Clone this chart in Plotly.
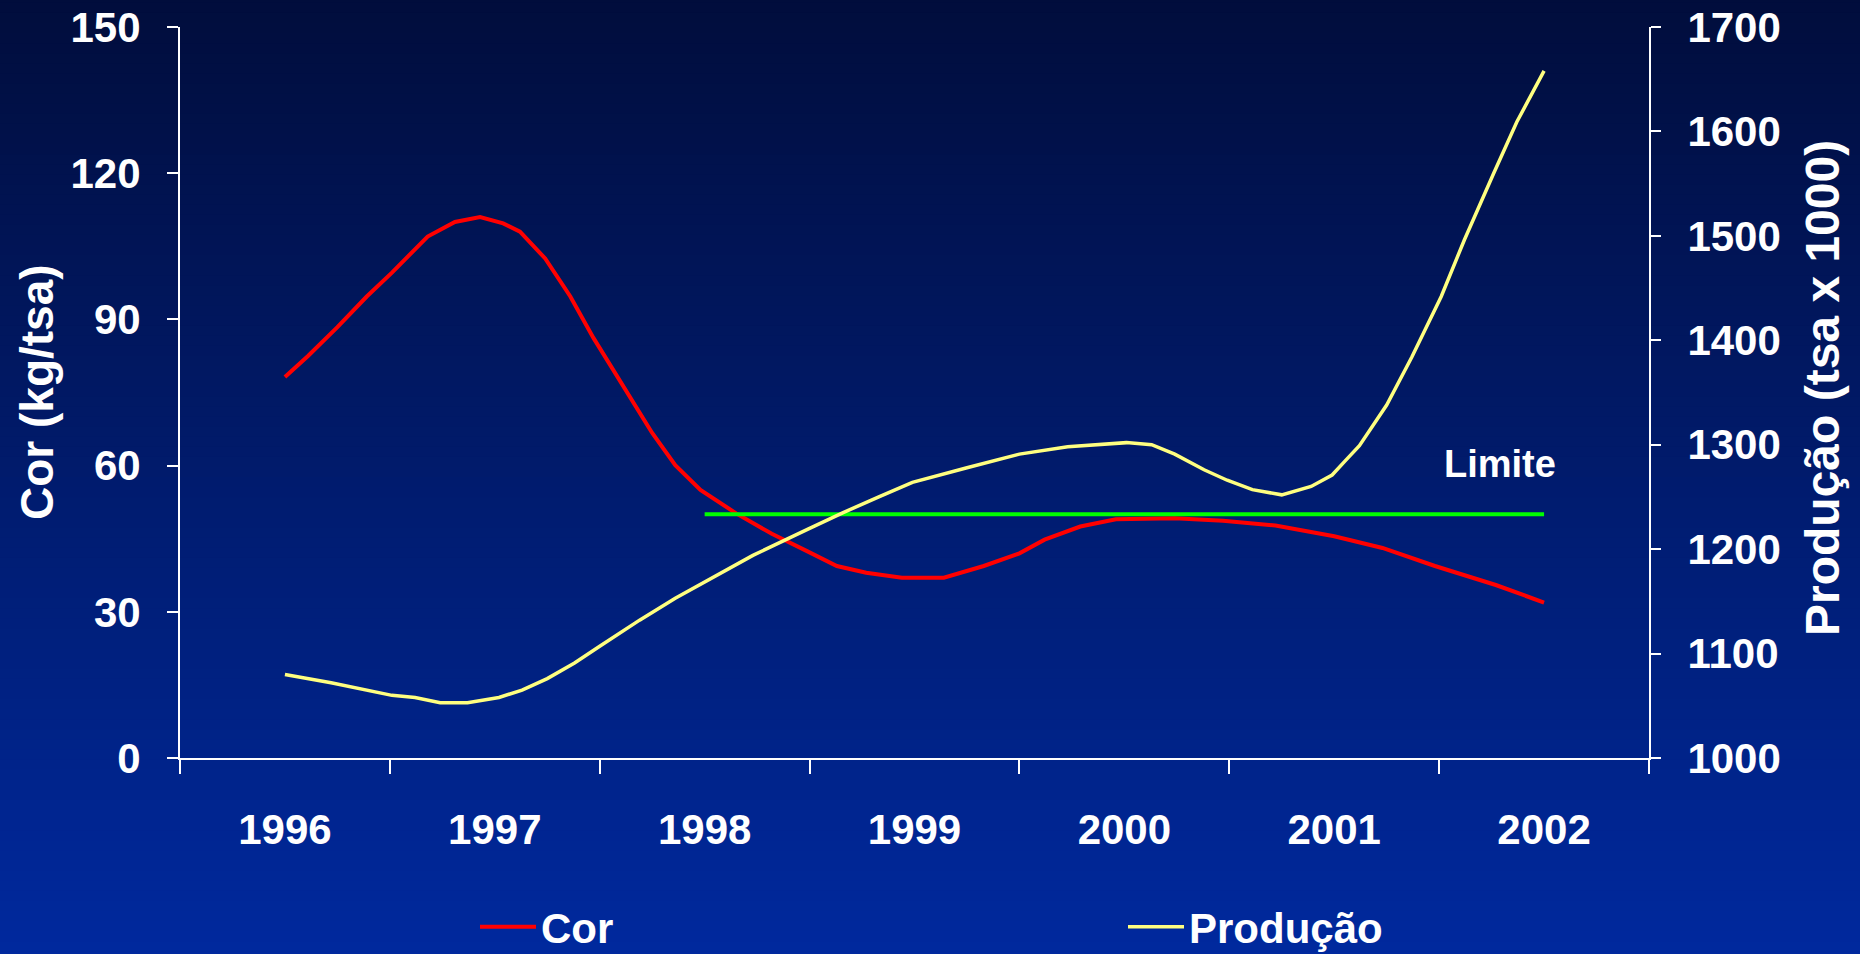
import plotly.graph_objects as go

# ---------------- data ----------------
years = [1996, 1997, 1998, 1999, 2000, 2001, 2002]
year_labels = ["1996", "1997", "1998", "1999", "2000", "2001", "2002"]

cor_x = [1996.00, 1996.11, 1996.25, 1996.39, 1996.51, 1996.68, 1996.81, 1996.93,
         1997.04, 1997.12, 1997.24, 1997.36, 1997.47, 1997.61, 1997.75, 1997.86,
         1997.98, 1998.15, 1998.32, 1998.49, 1998.63, 1998.77, 1998.94, 1999.14,
         1999.33, 1999.50, 1999.62, 1999.79, 1999.96, 2000.24, 2000.47, 2000.72,
         2001.00, 2001.23, 2001.48, 2001.77, 2002.00]
cor_y = [78.2, 82.5, 88.4, 94.7, 99.6, 107.0, 110.0, 111.0,
         109.7, 108.0, 102.5, 94.7, 86.2, 76.5, 66.7, 60.1,
         55.0, 50.2, 46.0, 42.4, 39.4, 38.0, 37.0, 37.0,
         39.4, 42.0, 44.8, 47.5, 49.0, 49.2, 48.7, 47.7,
         45.5, 43.1, 39.4, 35.5, 31.9]

prod_x = [1996.00, 1996.22, 1996.51, 1996.62, 1996.74, 1996.87, 1997.02, 1997.13,
          1997.25, 1997.38, 1997.50, 1997.69, 1997.86, 1998.03, 1998.23, 1998.49,
          1998.66, 1998.83, 1998.99, 1999.25, 1999.50, 1999.73, 2000.01, 2000.13,
          2000.24, 2000.38, 2000.49, 2000.61, 2000.75, 2000.89, 2000.99, 2001.05,
          2001.12, 2001.25, 2001.37, 2001.51, 2001.62, 2001.76, 2001.87, 2002.00]
prod_y = [1080, 1072, 1060, 1058, 1053, 1053, 1058, 1065,
          1076, 1091, 1107, 1132, 1153, 1172, 1194, 1219,
          1235, 1250, 1264, 1278, 1291, 1298, 1302, 1300,
          1291, 1276, 1266, 1257, 1252, 1260, 1271, 1284,
          1299, 1338, 1384, 1442, 1496, 1560, 1609, 1658]

limite_x = [1998.0, 2002.0]
limite_y = [50, 50]
limite_label = "Limite"

cor_ticks = [0, 30, 60, 90, 120, 150]
prod_ticks = [1000, 1100, 1200, 1300, 1400, 1500, 1600, 1700]

# ---------------- styling ----------------
FONT = "Liberation Sans, Arial, sans-serif"
WHITE = "#ffffff"
W, H = 1860, 954
ML, MR, MT, MB = 180, 211, 27, 196
PW, PH = W - ML - MR, H - MT - MB

fig = go.Figure()

fig.add_trace(go.Scatter(x=cor_x, y=cor_y, mode="lines", name="Cor",
                         line=dict(color="#ff0000", width=4)))
fig.add_trace(go.Scatter(x=prod_x, y=prod_y, mode="lines", name="Produção",
                         line=dict(color="#ffff80", width=3.5), yaxis="y2"))
fig.add_trace(go.Scatter(x=limite_x, y=limite_y, mode="lines", showlegend=False,
                         line=dict(color="#00ff00", width=4)))

# gradient background built from thin bands
shapes = []
n = 96
top = (1, 13, 60)
bot = (0, 41, 158)
y_top = MT / PH + 1.0 + 0.01
y_bot = -MB / PH - 0.01
for i in range(n):
    t = i / (n - 1)
    c = tuple(round(top[k] + (bot[k] - top[k]) * t) for k in range(3))
    y1 = y_top - (y_top - y_bot) * i / n
    y0 = y_top - (y_top - y_bot) * (i + 1) / n - 0.002
    shapes.append(dict(type="rect", xref="paper", yref="paper",
                       x0=-ML / PW - 0.01, x1=1 + MR / PW + 0.01, y0=y0, y1=y1,
                       fillcolor="rgb(%d,%d,%d)" % c, line=dict(width=0),
                       layer="below"))

tickfont = dict(family=FONT, size=42, color=WHITE, weight="bold")

fig.update_layout(
    width=W, height=H,
    margin=dict(l=ML, r=MR, t=MT, b=MB, autoexpand=False),
    paper_bgcolor="rgb(0,30,110)",
    plot_bgcolor="rgba(0,0,0,0)",
    shapes=shapes,
    showlegend=True,
    legend=dict(orientation="h", xref="container", x=475 / W, xanchor="left",
                yref="container", y=1 - 927 / H, yanchor="middle",
                font=dict(family=FONT, size=42, color=WHITE, weight="bold"),
                bgcolor="rgba(0,0,0,0)", entrywidth=577, entrywidthmode="pixels",
                itemwidth=56),
    xaxis=dict(range=[1995.5, 2002.5], tickmode="array", tickvals=years,
               ticktext=year_labels, ticks="", showgrid=False, zeroline=False,
               showline=True, linecolor=WHITE, linewidth=2, automargin=False,
               tickfont=tickfont, ticklabelstandoff=34,
               minor=dict(tickmode="array",
                          tickvals=[1995.5, 1996.5, 1997.5, 1998.5, 1999.5,
                                    2000.5, 2001.5, 2002.5],
                          ticks="outside", ticklen=14, tickwidth=2,
                          tickcolor=WHITE, showgrid=False)),
    yaxis=dict(range=[0, 150], tickmode="array", tickvals=cor_ticks,
               ticks="outside", ticklen=11, tickwidth=2, tickcolor=WHITE,
               showgrid=False, zeroline=False, showline=True, linecolor=WHITE,
               linewidth=2, tickfont=tickfont, ticklabelstandoff=18,
               automargin=False),
    yaxis2=dict(range=[1000, 1700], tickmode="array", tickvals=prod_ticks,
                overlaying="y", side="right",
                ticks="outside", ticklen=10, tickwidth=2, tickcolor=WHITE,
                showgrid=False, zeroline=False, showline=True, linecolor=WHITE,
                linewidth=2, tickfont=tickfont, ticklabelstandoff=18,
                automargin=False),
    annotations=[
        dict(text="Cor (kg/tsa)", xref="paper", yref="paper",
             x=(37 - ML) / PW, y=(758 - 392) / PH, textangle=-90,
             showarrow=False, xanchor="center", yanchor="middle",
             font=dict(family=FONT, size=46, color=WHITE, weight="bold")),
        dict(text="Produção (tsa x 1000)", xref="paper", yref="paper",
             x=(1822 - ML) / PW, y=(758 - 388) / PH, textangle=-90,
             showarrow=False, xanchor="center", yanchor="middle",
             font=dict(family=FONT, size=48, color=WHITE, weight="bold")),
        dict(text=limite_label, x=2001.79, y=60.3, xref="x", yref="y",
             showarrow=False, xanchor="center", yanchor="middle",
             font=dict(family=FONT, size=38, color=WHITE, weight="bold")),
    ],
)

fig.write_html("out.html")
